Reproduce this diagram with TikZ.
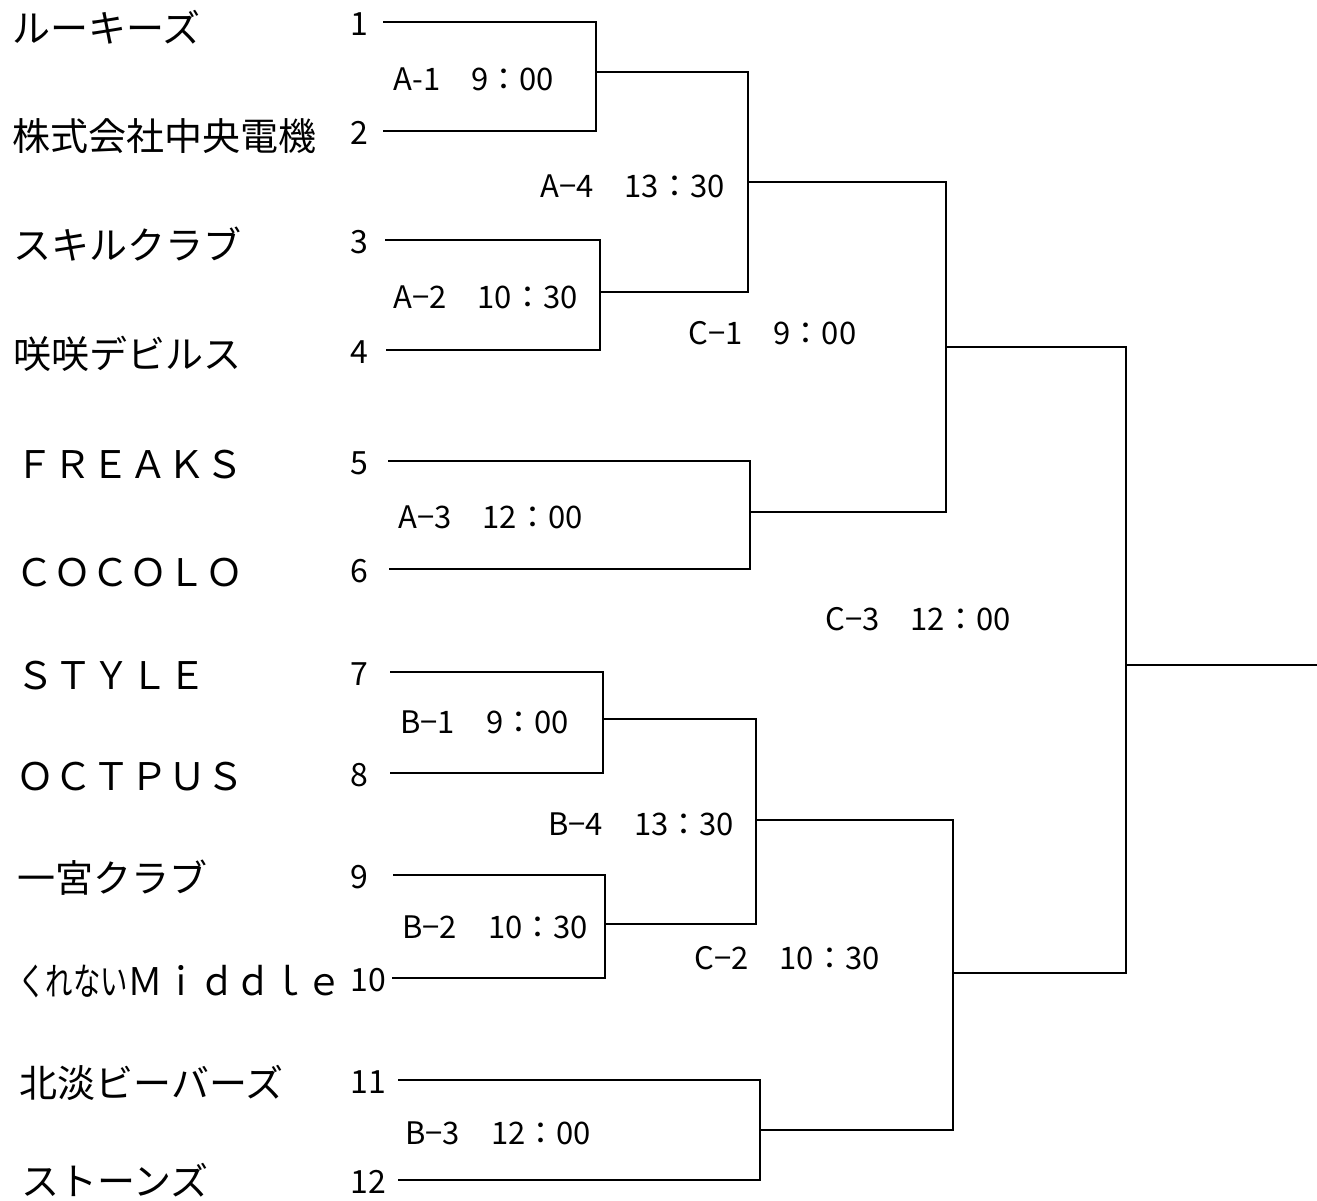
\documentclass[tikz,border=0pt]{standalone}
\usepackage{fontspec}
\usepackage{graphicx}
\setmainfont{Noto Sans CJK JP}
\usetikzlibrary{positioning}

\begin{document}
\begin{tikzpicture}[x=0.5pt,y=-0.5pt]
\tikzstyle{team}=[anchor=west, inner sep=0pt, font=\fontsize{19}{19}\selectfont]
\tikzstyle{seed}=[anchor=west, inner sep=0pt, font=\fontsize{16}{16}\selectfont]
\tikzstyle{game}=[anchor=west, inner sep=0pt, font=\fontsize{15.5}{15.5}\selectfont]
\tikzstyle{connect}=[line width=0.8pt, black]
  \useasboundingbox (0,0) rectangle (1317,1200);
  % teams, seeds and line starts
  \foreach \n/\team/\nx/\ty/\ly/\sx in {
      1/ルーキーズ/12/27/22/383,
      2/株式会社中央電機/12/136/131/383,
      3/スキルクラブ/13/244/240/385,
      4/咲咲デビルス/13/354/350/386,
      5/ＦＲＥＡＫＳ/15/465/461/388,
      6/ＣＯＣＯＬＯ/15/573/569/389,
      7/ＳＴＹＬＥ/16/676/672/390,
      8/ＯＣＴＰＵＳ/16/777/773/390,
      9/一宮クラブ/17/878/875/393,
      10/{\scalebox{0.72}[1]{くれない}\scalebox{0.94}[1]{Ｍｉｄｄｌｅ}}/18/981/978/392,
      11/北淡ビーバーズ/19/1083/1080/398,
      12/ストーンズ/21/1180/1180/398}{
    \node[team] (t\n) at (\nx,\ty) {\team};
    \node[seed] (n\n) at (350,\ly+2) {\n};
    \coordinate (s\n) at (\sx,\ly);
  }
  % match junctions
  \coordinate (A1) at (596,72);
  \coordinate (A2) at (600,292);
  \coordinate (A3) at (750,512);
  \coordinate (A4) at (748,182);
  \coordinate (B1) at (603,719);
  \coordinate (B2) at (605,924);
  \coordinate (B3) at (760,1130);
  \coordinate (B4) at (756,820);
  \coordinate (C1) at (946,347);
  \coordinate (C2) at (953,973);
  \coordinate (C3) at (1126,665);
  \coordinate (fin) at (1317,665);
  % brackets
  \draw[connect] (s1) -| (A1) |- (s2);
  \draw[connect] (s3) -| (A2) |- (s4);
  \draw[connect] (s5) -| (A3) |- (s6);
  \draw[connect] (s7) -| (B1) |- (s8);
  \draw[connect] (s9) -| (B2) |- (s10);
  \draw[connect] (s11) -| (B3) |- (s12);
  \draw[connect] (A1) -| (A4) |- (A2);
  \draw[connect] (B1) -| (B4) |- (B2);
  \draw[connect] (A4) -| (C1) |- (A3);
  \draw[connect] (B4) -| (C2) |- (B3);
  \draw[connect] (C1) -| (C3) |- (C2);
  \draw[connect] (C3) -- (fin);
  % game labels
  \node[game] (gA1) at (393,79) {A-1　9：00};
  \node[game] (gA2) at (393,297) {A−2　10：30};
  \node[game] (gA3) at (398,517) {A−3　12：00};
  \node[game] (gA4) at (540,186) {A−4　13：30};
  \node[game] (gB1) at (400,722) {B−1　9：00};
  \node[game] (gB2) at (402,927) {B−2　10：30};
  \node[game] (gB3) at (405,1133) {B−3　12：00};
  \node[game] (gB4) at (548,824) {B−4　13：30};
  \node[game] (gC1) at (688,333) {C−1　9：00};
  \node[game] (gC2) at (694,958) {C−2　10：30};
  \node[game] (gC3) at (825,619) {C−3　12：00};
\end{tikzpicture}
\end{document}
